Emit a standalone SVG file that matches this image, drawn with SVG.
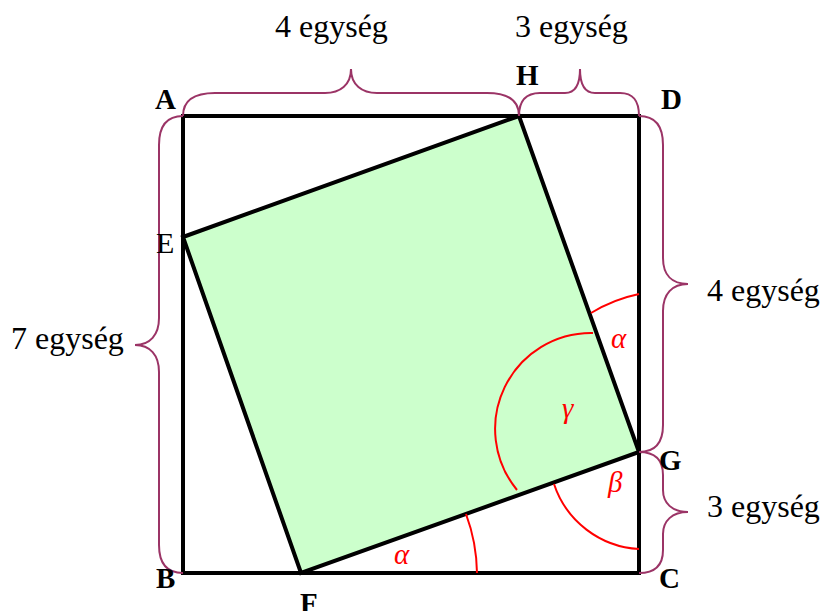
<svg xmlns="http://www.w3.org/2000/svg" width="822" height="611" viewBox="0 0 822 611">
<style>
.edge{fill:none;stroke:#000;stroke-width:4;stroke-linejoin:miter}
.fillg{fill:#ccffcc;stroke:#000;stroke-width:4;stroke-linejoin:miter}
.brace{fill:none;stroke:#9b3466;stroke-width:2}
.arc{fill:none;stroke:#ff0000;stroke-width:2}
.pt{font-family:"Liberation Serif",serif;font-size:29px;font-weight:bold;fill:#000}
.pt-r{font-family:"Liberation Serif",serif;font-size:30px;fill:#000}
.lbl{font-family:"Liberation Serif",serif;font-size:32px;fill:#000}
.gr{font-family:"Liberation Serif",serif;font-size:29px;font-style:italic;fill:#ff0000}
</style>
<rect width="822" height="611" fill="#fff"/>
<g id="outer-square">
<rect class="edge" x="183" y="116" width="456" height="457"/>
</g>
<g id="inner-square">
<polygon class="fillg" points="183,237 519,116 639,452 301,573"/>
</g>
<g id="angles">
<path class="arc" d="M477,573 A176,176 0 0 0 466,514"/>
<path class="arc" d="M591,313 A150,150 0 0 1 639,294"/>
<path class="arc" d="M593,333 A96,96 0 0 0 517,490"/>
<path class="arc" d="M554,484 A95,95 0 0 0 639,549"/>
<text class="gr" x="394" y="564">α</text>
<text class="gr" x="611" y="348">α</text>
<text class="gr" x="608" y="492">β</text>
<text class="gr" x="562" y="418">γ</text>
</g>
<g id="connectors">
<path class="brace" d="M183,116 C183,100 195,93 215,93 L325,93 C340,93 351,85 351,69 C351,85 362,93 377,93 L487,93 C507,93 519,100 519,116"/>
<path class="brace" d="M519,116 C519,100 527,93 540,93 L565,93 C575,93 580,85 580,69 C580,85 585,93 595,93 L620,93 C633,93 639,100 639,116"/>
<path class="brace" d="M639,116 C655,116 663,125 663,145 L663,258 C663,275 672,284 688,284 C672,284 663,294 663,311 L663,425 C663,443 655,452 639,452"/>
<path class="brace" d="M639,452 C655,452 663,460 663,475 L663,490 C663,503 672,512 688,512 C672,512 663,521 663,534 L663,550 C663,565 655,573 639,573"/>
<path class="brace" d="M183,116 C167,116 159,125 159,145 L159,318 C159,335 150,345 135,345 C150,345 159,355 159,372 L159,545 C159,564 167,573 183,573"/>
</g>
<g id="labels">
<text class="lbl" x="275" y="37">4 egység</text>
<text class="lbl" x="515" y="37">3 egység</text>
<text class="lbl" x="707" y="301">4 egység</text>
<text class="lbl" x="707" y="517">3 egység</text>
<text class="lbl" x="11" y="349">7 egység</text>
</g>
<g id="points">
<text class="pt" x="155" y="109">A</text>
<text class="pt" x="516" y="85">H</text>
<text class="pt" x="661" y="109">D</text>
<text class="pt-r" x="156" y="253">E</text>
<text class="pt" x="659" y="470">G</text>
<text class="pt" x="659" y="588">C</text>
<text class="pt" x="156" y="588">B</text>
<text class="pt" x="300" y="613">F</text>
</g>
</svg>
